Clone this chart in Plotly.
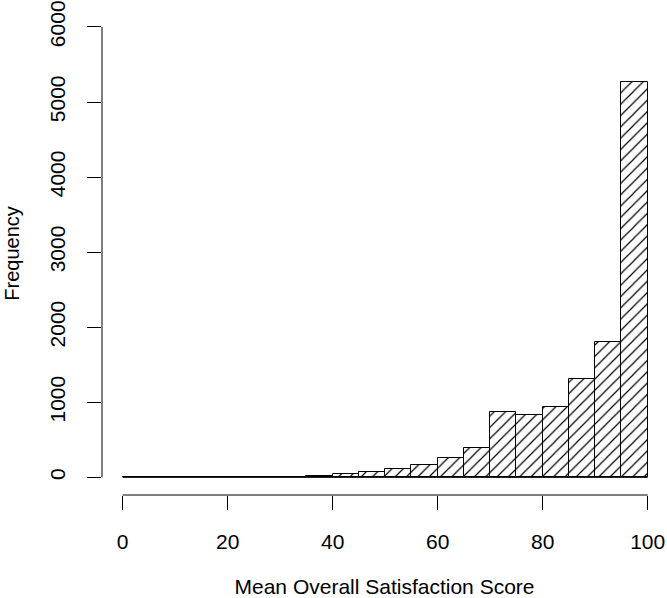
import plotly.graph_objects as go

# 히스토그램 구간 (폭 5)
bin_edges = [0, 5, 10, 15, 20, 25, 30, 35, 40, 45, 50,
             55, 60, 65, 70, 75, 80, 85, 90, 95, 100]
counts = [0, 0, 3, 0, 3, 6, 8, 18, 45, 75,
          110, 160, 256, 393, 866, 835, 941, 1307, 1808, 5270]

x_ticks = [0, 20, 40, 60, 80, 100]
y_ticks = [0, 1000, 2000, 3000, 4000, 5000, 6000]

centers = [(a + b) / 2 for a, b in zip(bin_edges[:-1], bin_edges[1:])]
widths = [b - a for a, b in zip(bin_edges[:-1], bin_edges[1:])]

FONT = "Liberation Sans, Arial, sans-serif"

fig = go.Figure()

fig.add_trace(
    go.Bar(
        x=centers,
        y=counts,
        width=widths,
        marker=dict(
            color="white",
            line=dict(color="black", width=1),
            pattern=dict(shape="/", fgcolor="black", bgcolor="white",
                         fgopacity=1, size=8, solidity=0.15),
        ),
        showlegend=False,
    )
)

# 0 높이 막대의 바닥선 (R hist 스타일)
fig.add_shape(type="line", xref="x", yref="y",
              x0=bin_edges[0], x1=bin_edges[-1], y0=0, y1=0,
              line=dict(color="black", width=1))

# R 스타일 분리된 축선
fig.add_shape(type="line", xref="x", yref="paper",
              x0=x_ticks[0], x1=x_ticks[-1], y0=0, y1=0,
              line=dict(color="black", width=1))
fig.add_shape(type="line", xref="paper", yref="y",
              x0=0, x1=0, y0=y_ticks[0], y1=y_ticks[-1],
              line=dict(color="black", width=1))

fig.update_layout(
    width=667,
    height=598,
    margin=dict(l=102, r=0, t=10, b=103),
    paper_bgcolor="white",
    plot_bgcolor="white",
    bargap=0,
    font=dict(family=FONT, size=21, color="black"),
    xaxis=dict(
        range=[-3.94, 103.68],
        tickvals=x_ticks,
        ticks="outside",
        ticklen=14,
        tickcolor="black",
        tickfont=dict(size=21),
        ticklabelstandoff=14,
        ticklabeloverflow="allow",
        showgrid=False,
        zeroline=False,
        showline=False,
        title=dict(text="Mean Overall Satisfaction Score",
                   font=dict(size=21), standoff=30),
    ),
    yaxis=dict(
        range=[-235, 6199],
        tickvals=y_ticks,
        ticks="outside",
        ticklen=14,
        tickcolor="black",
        tickangle=-90,
        tickfont=dict(size=21),
        ticklabelstandoff=14,
        ticklabeloverflow="allow",
        showgrid=False,
        zeroline=False,
        showline=False,
        title=dict(text="Frequency", font=dict(size=20), standoff=20),
    ),
)

# 페이지 기본 여백 제거
fig.write_html(
    "out.html",
    config={"displayModeBar": False},
    post_script="document.body.style.margin='0px';",
)
